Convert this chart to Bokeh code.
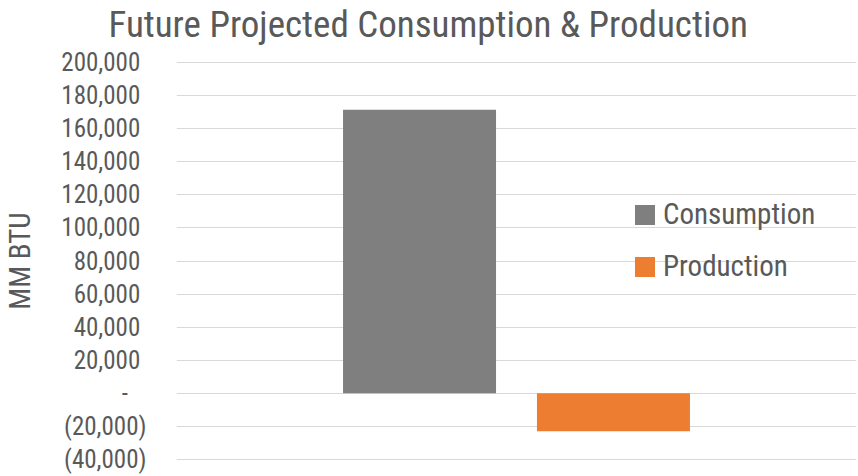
from bokeh.plotting import figure
from bokeh.models import (FactorRange, Range1d, FixedTicker, ColumnDataSource,
                          Legend, LegendItem, Title)
from bokeh.transform import dodge
from bokeh.embed import file_html
from bokeh.resources import INLINE

# ---- data ----
categories = ["Future"]
series_names = ["Consumption", "Production"]
consumption = [171500]
production = [-23000]
series_colors = ["#7f7f7f", "#ed7d31"]
y_ticks = [-40000, -20000, 0, 20000, 40000, 60000, 80000, 100000,
           120000, 140000, 160000, 180000, 200000]
y_tick_labels = ["(40,000)", "(20,000)", "-\u2007\u2008", "20,000\u2008", "40,000\u2008",
                 "60,000\u2008", "80,000\u2008", "100,000\u2008", "120,000\u2008",
                 "140,000\u2008", "160,000\u2008", "180,000\u2008", "200,000\u2008"]
title_text = "Future Projected Consumption & Production"
y_axis_title = "MM BTU"

FONT = "'Roboto Condensed', 'DejaVu Sans Condensed', 'Liberation Sans', sans-serif"
TXT = "#595959"

src = ColumnDataSource(dict(cat=categories, consumption=consumption, production=production))

# frame: y 44..476; ticks -40,000..200,000 sit at y 458.7..61.3 (603.9 units per px)
p = figure(x_range=FactorRange(factors=categories), y_range=Range1d(-50447, 210447),
           width=858, height=476, output_backend="svg", toolbar_location=None,
           x_axis_location=None, min_border_left=176, min_border_right=2,
           min_border_top=44, min_border_bottom=0)
p.outline_line_color = None
p.background_fill_color = "white"
p.xgrid.grid_line_color = None
p.ygrid.ticker = FixedTicker(ticks=y_ticks)
p.ygrid.grid_line_color = "#d9d9d9"
p.ygrid.grid_line_width = 1

ax = p.yaxis[0]
ax.ticker = FixedTicker(ticks=y_ticks)
ax.major_label_overrides = {t: l for t, l in zip(y_ticks, y_tick_labels)}
ax.axis_line_color = None
ax.major_tick_line_color = None
ax.minor_tick_line_color = None
ax.major_tick_out = 0
ax.major_tick_in = 0
ax.major_label_standoff = 30
ax.major_label_text_font = FONT
ax.major_label_text_font_size = "25px"
ax.major_label_text_color = TXT
ax.axis_label = y_axis_title
ax.axis_label_text_font = FONT
ax.axis_label_text_font_size = "29px"
ax.axis_label_text_font_style = "normal"
ax.axis_label_text_color = TXT
ax.axis_label_standoff = 21

r1 = p.vbar(x=dodge("cat", -0.1426, range=p.x_range), top="consumption", width=0.225,
            source=src, fill_color=series_colors[0], line_color=None)
r2 = p.vbar(x=dodge("cat", 0.1426, range=p.x_range), top="production", width=0.225,
            source=src, fill_color=series_colors[1], line_color=None)

legend = Legend(items=[LegendItem(label=series_names[0], renderers=[r1]),
                       LegendItem(label=series_names[1], renderers=[r2])],
                location=(456, 193), orientation="vertical",
                glyph_width=25, glyph_height=25, label_standoff=6, spacing=18,
                padding=0, margin=0, border_line_color=None,
                background_fill_alpha=0,
                label_text_font=FONT, label_text_font_size="29px",
                label_text_color=TXT)
p.add_layout(legend, "center")

p.add_layout(Title(text=title_text, align="left", offset=-68, standoff=0,
                   text_font=FONT, text_font_size="37px", text_font_style="normal",
                   text_color=TXT), "above")

open("out.html", "w").write(file_html(p, INLINE))
